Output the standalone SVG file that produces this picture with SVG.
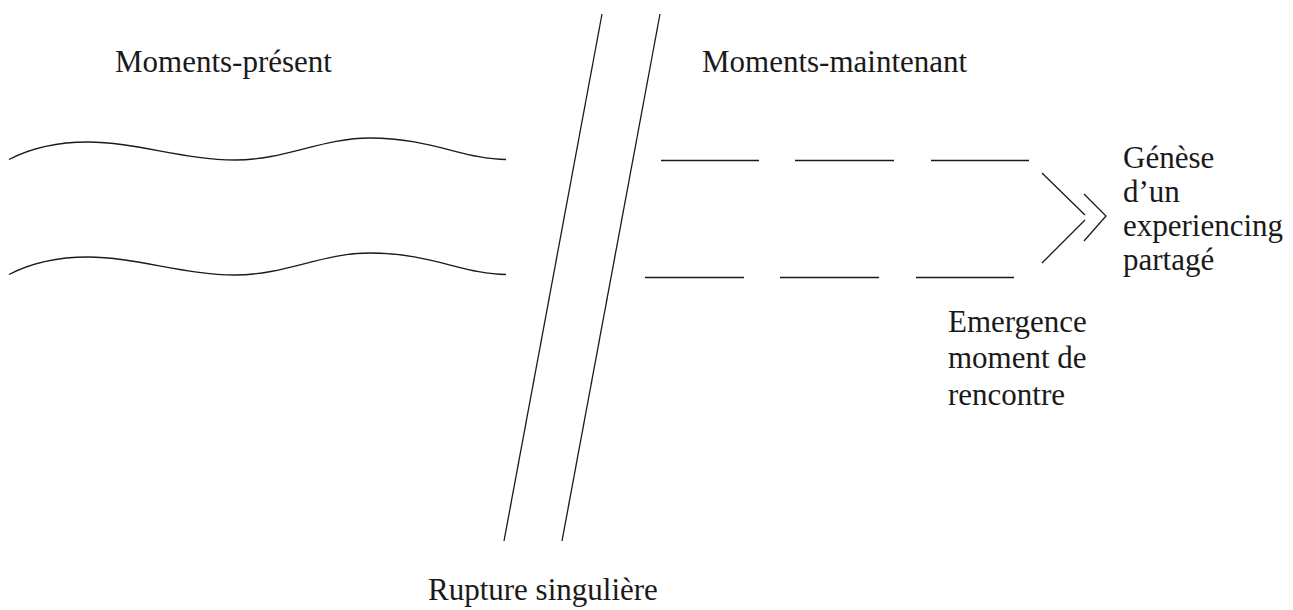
<svg xmlns="http://www.w3.org/2000/svg" width="1293" height="610" viewBox="0 0 1293 610">
  <style>
    .ln { fill: none; stroke: #1a1a1a; stroke-width: 1.3; }
    .lbl { font-family: "Liberation Serif", "Times New Roman", serif; font-size: 31px; fill: #1a1a1a; }
  </style>
  <defs>
    <path id="wave" d="M9,159.5 C35,146 60,142 88,142 C135,142 185,160 235,160 C285,160 322,138 370,138 C430,138 465,159.5 506,159.5"/>
  </defs>
  <rect width="1293" height="610" fill="#ffffff"/>

  <!-- labels -->
  <g id="label-present">
    <text class="lbl" x="115" y="72">Moments-présent</text>
  </g>
  <g id="label-maintenant">
    <text class="lbl" x="702" y="72">Moments-maintenant</text>
  </g>
  <g id="label-genese">
    <text class="lbl" x="1123" y="168">Génèse</text>
    <text class="lbl" x="1123" y="202">d’un</text>
    <text class="lbl" x="1123" y="236">experiencing</text>
    <text class="lbl" x="1123" y="270">partagé</text>
  </g>
  <g id="label-emergence">
    <text class="lbl" x="948" y="332">Emergence</text>
    <text class="lbl" x="948" y="368">moment de</text>
    <text class="lbl" x="948" y="405">rencontre</text>
  </g>
  <g id="label-rupture">
    <text class="lbl" x="428" y="600">Rupture singulière</text>
  </g>

  <!-- connectors -->
  <g id="connectors">
    <!-- wavy flow of present moments -->
    <use href="#wave" class="ln"/>
    <use href="#wave" class="ln" transform="translate(0,115)"/>
    <!-- rupture: two slanted strokes -->
    <line class="ln" x1="602" y1="14" x2="504" y2="541"/>
    <line class="ln" x1="660" y1="14" x2="562" y2="541"/>
    <!-- dashed flow of now moments -->
    <line class="ln" x1="661" y1="160.5" x2="759" y2="160.5"/>
    <line class="ln" x1="795" y1="160.5" x2="894" y2="160.5"/>
    <line class="ln" x1="931" y1="160.5" x2="1029" y2="160.5"/>
    <line class="ln" x1="645" y1="277.5" x2="744" y2="277.5"/>
    <line class="ln" x1="780" y1="277.5" x2="879" y2="277.5"/>
    <line class="ln" x1="916" y1="277.5" x2="1014" y2="277.5"/>
    <!-- double chevron -->
    <polyline class="ln" points="1042,173 1085,215"/>
    <polyline class="ln" points="1085,220 1042,263"/>
    <polyline class="ln" points="1084,194 1106,216 1084,241"/>
  </g>
</svg>
